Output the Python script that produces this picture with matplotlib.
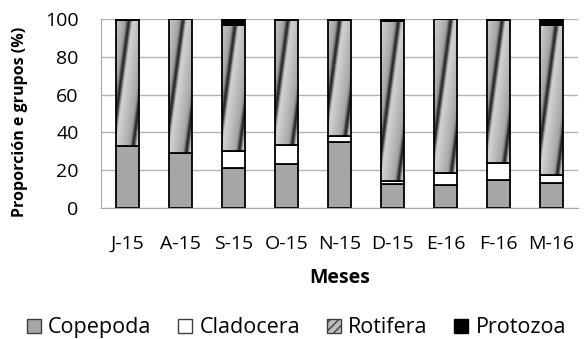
import numpy as np
import matplotlib
matplotlib.use("Agg")
from matplotlib import pyplot as plt
from matplotlib.patches import Patch

plt.rcParams['font.family'] = ['Open Sans', 'DejaVu Sans']

meses = ["J-15", "A-15", "S-15", "O-15", "N-15", "D-15", "E-16", "F-16", "M-16"]
copepoda = [33.0, 29.0, 21.0, 23.5, 35.0, 13.0, 12.0, 15.0, 13.5]
cladocera = [0.0, 0.0, 9.0, 10.0, 3.0, 1.3, 6.5, 9.0, 4.0]
rotifera = [66.7, 70.8, 67.0, 66.0, 61.7, 84.7, 81.3, 75.7, 79.3]
protozoa = [0.3, 0.2, 3.0, 0.5, 0.3, 1.0, 0.2, 0.3, 3.2]

BAR_W = 0.43
EDGE = 1.3


def rotifera_texture(ax, x, bottom, height):
    # diagonal grey gradient like the excel fill, clipped to the bar
    nx, ny = 24, max(int(height * 1.9), 2)
    ix, iy = np.meshgrid(np.arange(nx), np.arange(ny))
    s = (ix - 0.14 * iy + 3) % 22.0
    # slow ramp light -> mid plus a narrow dark stripe
    img = 0.86 - 0.28 * (s / 22.0) - 0.45 * np.exp(-((s - 20.5) / 2.2) ** 2)
    img = img - 0.45 * np.exp(-((s - 0.0) / 1.5) ** 2)
    bar = ax.bar(x, height, BAR_W, bottom=bottom, facecolor='none',
                 edgecolor='black', linewidth=EDGE, zorder=4)[0]
    im = ax.imshow(img, cmap='gray', vmin=0, vmax=1, origin='lower',
                   extent=[x - BAR_W / 2, x + BAR_W / 2, bottom, bottom + height],
                   aspect='auto', interpolation='bilinear', zorder=3)
    im.set_clip_path(bar)


fig = plt.figure(figsize=(5.87, 3.39), dpi=100)
ax = fig.add_axes([0.172, 0.386, 0.813, 0.558])

x = np.arange(len(meses))
c = np.array(copepoda)
cl = np.array(cladocera)
r = np.array(rotifera)
p = np.array(protozoa)

ax.bar(x, c, BAR_W, color='#a6a6a6', edgecolor='black', linewidth=EDGE, zorder=3)
ax.bar(x, cl, BAR_W, bottom=c, color='white', edgecolor='black', linewidth=EDGE, zorder=3)
for i in range(len(meses)):
    rotifera_texture(ax, x[i], c[i] + cl[i], r[i])
ax.bar(x, p, BAR_W, bottom=c + cl + r, color='black', edgecolor='black', linewidth=EDGE, zorder=3)

ax.set_xlim(-0.5, len(meses) - 0.5)
ax.set_ylim(0, 100)
ax.set_yticks(range(0, 101, 20))
ax.set_xticks(x)
ax.set_xticklabels(meses)
ax.yaxis.grid(True, color='#b4b4b4', linewidth=1.0, zorder=0)
ax.set_axisbelow(True)
for side in ['top', 'right']:
    ax.spines[side].set_visible(False)
for side in ['left', 'bottom']:
    ax.spines[side].set_color('#a6a6a6')
ax.tick_params(axis='both', length=0, labelsize=14, colors='black')
ax.tick_params(axis='y', pad=16)
ax.tick_params(axis='x', pad=19)

fig.text(20 / 587, 1 - 122 / 339, "Proporción e grupos (%)", rotation=90,
         ha='center', va='center', fontsize=11.5, fontweight='bold')
ax.set_xlabel("Meses", fontsize=14, fontweight='bold', labelpad=11)

handles = [Patch(facecolor='#a6a6a6', edgecolor='#404040', label='Copepoda'),
           Patch(facecolor='white', edgecolor='#404040', label='Cladocera'),
           Patch(facecolor='#bdbdbd', edgecolor='#404040', hatch='////', label='Rotifera'),
           Patch(facecolor='black', edgecolor='black', label='Protozoa')]
fig.legend(handles=handles, loc='center', bbox_to_anchor=(0.505, 0.033), ncol=4,
           frameon=False, fontsize=15.5, handlelength=0.65, handleheight=0.65,
           handletextpad=0.33, columnspacing=1.25, borderpad=0)

fig.savefig("out.png", dpi=100)
